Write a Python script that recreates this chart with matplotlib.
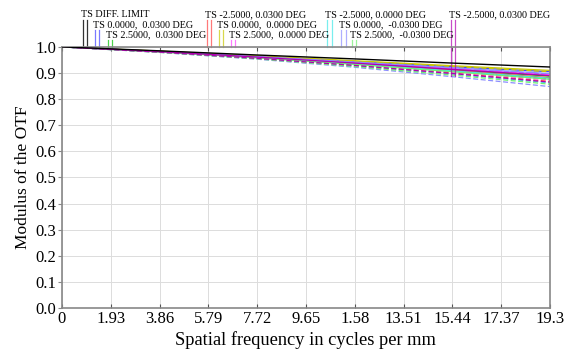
import matplotlib.pyplot as plt
import numpy as np

plt.rcParams['font.family'] = 'Liberation Serif'

# frequencies (cycles/mm) where the curves are sampled
freq = [0, 3.86, 7.72, 11.58, 15.44, 19.3]

# MTF curves, tangential (T) and sagittal (S)
diff_limit = [1.0, 0.985, 0.969, 0.954, 0.938, 0.923]
f1_T = [1.0, 0.983, 0.964, 0.944, 0.924, 0.905]   # 0.0000, 0.0300
f1_S = [1.0, 0.982, 0.962, 0.940, 0.917, 0.895]
f2_T = [1.0, 0.982, 0.961, 0.938, 0.913, 0.888]   # 2.5000, 0.0300
f2_S = [1.0, 0.981, 0.959, 0.934, 0.907, 0.878]
f3_T = [1.0, 0.981, 0.960, 0.936, 0.910, 0.882]   # -2.5000, 0.0300
f3_S = [1.0, 0.980, 0.957, 0.930, 0.900, 0.868]
f4_T = [1.0, 0.984, 0.966, 0.947, 0.928, 0.910]   # 0.0000, 0.0000
f4_S = [1.0, 0.983, 0.965, 0.945, 0.925, 0.905]
f5_T = [1.0, 0.982, 0.962, 0.940, 0.917, 0.893]   # 2.5000, 0.0000
f5_S = [1.0, 0.981, 0.958, 0.933, 0.904, 0.874]
f6_T = [1.0, 0.981, 0.959, 0.935, 0.908, 0.880]   # -2.5000, 0.0000
f6_S = [1.0, 0.980, 0.955, 0.927, 0.896, 0.862]
f7_T = [1.0, 0.983, 0.963, 0.942, 0.920, 0.898]   # 0.0000, -0.0300
f7_S = [1.0, 0.979, 0.953, 0.922, 0.886, 0.848]
f8_T = [1.0, 0.981, 0.958, 0.933, 0.905, 0.876]   # 2.5000, -0.0300
f8_S = [1.0, 0.979, 0.954, 0.925, 0.892, 0.857]
f9_T = [1.0, 0.982, 0.961, 0.938, 0.914, 0.890]   # -2.5000, 0.0300
f9_S = [1.0, 0.980, 0.956, 0.929, 0.898, 0.865]

labels = ['TS DIFF. LIMIT', 'TS 0.0000,  0.0300 DEG', 'TS 2.5000,  0.0300 DEG',
          'TS -2.5000, 0.0300 DEG', 'TS 0.0000,  0.0000 DEG', 'TS 2.5000,  0.0000 DEG',
          'TS -2.5000, 0.0000 DEG', 'TS 0.0000,  -0.0300 DEG', 'TS 2.5000,  -0.0300 DEG',
          'TS -2.5000, 0.0300 DEG']
colors = ['#000000', '#4040ff', '#00c000', '#ff4040', '#c8c800', '#ff40ff',
          '#40e8e8', '#8c8cff', '#70f070', '#b000b0']
# label anchor: x in data units, row in the header
label_x = [0.82, 1.30, 1.82, 5.72, 6.20, 6.67, 10.50, 11.05, 11.48, 15.39]
label_row = [0, 1, 2, 0, 1, 2, 0, 1, 2, 0]

xticks = [0, 1.93, 3.86, 5.79, 7.72, 9.65, 11.58, 13.51, 15.44, 17.37, 19.3]
xticklabels = ['0', '1.93', '3.86', '5.79', '7.72', '9.65', '1.58', '13.51',
               '15.44', '17.37', '19.3']

fig = plt.figure(figsize=(5.66, 3.5), dpi=100)
ax = fig.add_axes([0.1095, 0.12, 0.862, 0.746])

T = [f1_T, f2_T, f3_T, f4_T, f5_T, f6_T, f7_T, f8_T, f9_T]
S = [f1_S, f2_S, f3_S, f4_S, f5_S, f6_S, f7_S, f8_S, f9_S]
ax.plot(freq, diff_limit, color=colors[0], lw=1.0, zorder=5)
for t, s, c in zip(T, S, colors[1:]):
    ax.plot(freq, t, color=c, lw=0.9)
    ax.plot(freq, s, color=c, lw=0.9, ls=(0, (4, 2)))

ax.set_xlim(0, 19.3)
ax.set_ylim(0, 1.0)
ax.set_xticks(xticks)
ax.set_xticklabels(xticklabels)
ax.set_yticks(np.arange(0, 1.01, 0.1))
ax.set_yticklabels(['%.1f' % v for v in np.arange(0, 1.01, 0.1)])
ax.grid(True, color='#dcdcdc', lw=0.7)
ax.tick_params(axis='x', direction='in', top=True, length=3, labelsize=12, pad=2, color='#555555')
ax.tick_params(axis='y', direction='out', length=3, labelsize=12, pad=1, color='#888888')
for sp in ax.spines.values():
    sp.set_color('#888888')
    sp.set_linewidth(1.2)
ax.set_xlabel('Spatial frequency in cycles per mm', fontsize=13.2, labelpad=3)
ax.set_ylabel('Modulus of the OTF', fontsize=12.5, labelpad=3)

# header legend: label text with pair of T/S marker lines
trans = ax.get_xaxis_transform()
row_y = [1.123, 1.085, 1.047]
for i, lab in enumerate(labels):
    x = label_x[i]
    y = row_y[label_row[i]]
    ax.text(x - 0.08, y, lab, transform=trans, fontsize=7.3, ha='left', va='center',
            clip_on=False)
    y0 = 0.89 if i == len(labels) - 1 else 1.0
    for dx in (0.0, 0.17):
        ax.plot([x + dx, x + dx], [y0, y - 0.020], transform=trans, color=colors[i],
                lw=0.9, alpha=0.7 if i else 0.8, clip_on=False)

plt.savefig('out.png', dpi=100)
